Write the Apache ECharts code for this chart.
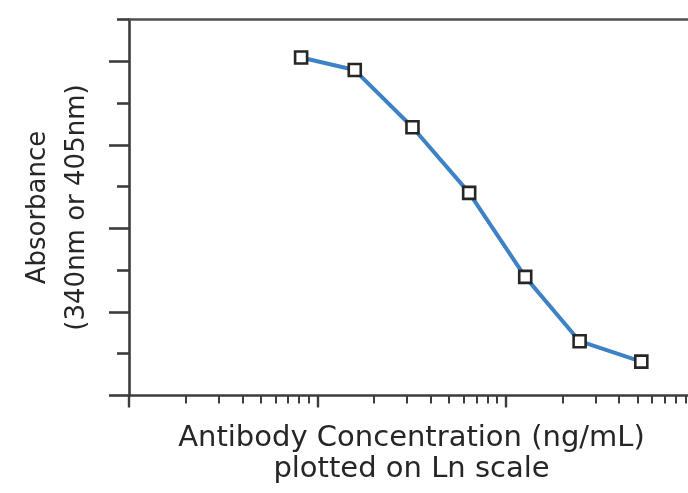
<!DOCTYPE html>
<html>
<head>
<meta charset="utf-8">
<script src="https://cdn.jsdelivr.net/npm/echarts@6/dist/echarts.min.js"></script>
<style>
  html, body { margin: 0; padding: 0; background: #fff; }
  #chart { width: 688px; height: 493px; }
</style>
</head>
<body>
<div id="chart"></div>
<script>
// Data
const concentration = [8.2, 15.8, 32, 64, 127, 247, 525];   // ng/mL (log axis)
const absorbance    = [8.09, 7.79, 6.42, 4.85, 2.84, 1.30, 0.81];

// Tick positions
const xDecadeTicks = [1, 10, 100, 1000];
const xMinorTicks  = [2, 3, 4, 5, 6, 7, 8, 9, 20, 30, 40, 50, 60, 70, 80, 90, 200, 300, 400, 500, 600, 700, 800, 900];
const yLongTicks   = [0, 2, 4, 6, 8];
const yShortTicks  = [1, 3, 5, 7, 9];

const xTitle = 'Antibody Concentration (ng/mL)\nplotted on Ln scale';
const yTitle = 'Absorbance\n(340nm or 405nm)';

const axisColor = '#3c3c3c';
const textColor = '#262626';

const chart = echarts.init(document.getElementById('chart'), null, { renderer: 'canvas' });

const points = concentration.map((c, i) => [c, absorbance[i]]);

chart.setOption({
  animation: false,
  backgroundColor: '#ffffff',
  grid: {
    left: 129, top: 19.5, width: 565, bottom: 97.5,
    containLabel: false, outerBoundsMode: 'none'
  },
  xAxis: [
    {
      type: 'log', logBase: 10, min: 1, max: 1000, position: 'bottom', offset: 0,
      axisLine: { show: true, lineStyle: { color: axisColor, width: 2.6 } },
      axisTick: { show: true, customValues: xDecadeTicks, length: 12, inside: false, lineStyle: { color: axisColor, width: 2.4 } },
      axisLabel: { show: false },
      splitLine: { show: false },
      minorTick: { show: false },
      name: xTitle,
      nameLocation: 'middle',
      nameGap: 27,
      nameTextStyle: { fontFamily: 'DejaVu Sans', fontSize: 29, color: textColor, lineHeight: 31, align: 'center' }
    },
    {
      type: 'log', logBase: 10, min: 1, max: 1000, position: 'bottom', offset: 0,
      axisLine: { show: false },
      axisTick: { show: true, customValues: xMinorTicks, length: 8, inside: false, lineStyle: { color: axisColor, width: 2 } },
      axisLabel: { show: false },
      splitLine: { show: false }
    },
    {
      type: 'log', logBase: 10, min: 1, max: 1000, position: 'top', offset: 0,
      axisLine: { show: true, lineStyle: { color: '#505050', width: 2.6 } },
      axisTick: { show: false },
      axisLabel: { show: false },
      splitLine: { show: false }
    }
  ],
  yAxis: [
    {
      type: 'value', min: 0, max: 9, position: 'left', offset: 0,
      axisLine: { show: true, lineStyle: { color: axisColor, width: 2.6 } },
      axisTick: { show: true, customValues: yLongTicks, length: 20, inside: false, lineStyle: { color: axisColor, width: 2.6 } },
      axisLabel: { show: false },
      splitLine: { show: false },
      name: yTitle,
      nameLocation: 'middle',
      nameRotate: 90,
      nameGap: 32,
      nameTextStyle: { fontFamily: 'DejaVu Sans', fontSize: 26, color: textColor, lineHeight: 39, align: 'center' }
    },
    {
      type: 'value', min: 0, max: 9, position: 'left', offset: 0,
      axisLine: { show: false },
      axisTick: { show: true, customValues: yShortTicks, length: 12, inside: false, lineStyle: { color: axisColor, width: 2.6 } },
      axisLabel: { show: false },
      splitLine: { show: false }
    }
  ],
  series: [
    {
      type: 'line',
      xAxisIndex: 0,
      yAxisIndex: 0,
      data: points,
      smooth: false,
      lineStyle: { color: '#3d82c4', width: 4 },
      symbol: 'rect',
      symbolSize: 12,
      itemStyle: { color: '#ffffff', borderColor: '#262626', borderWidth: 2.6 },
      z: 5
    }
  ]
});
</script>
</body>
</html>
